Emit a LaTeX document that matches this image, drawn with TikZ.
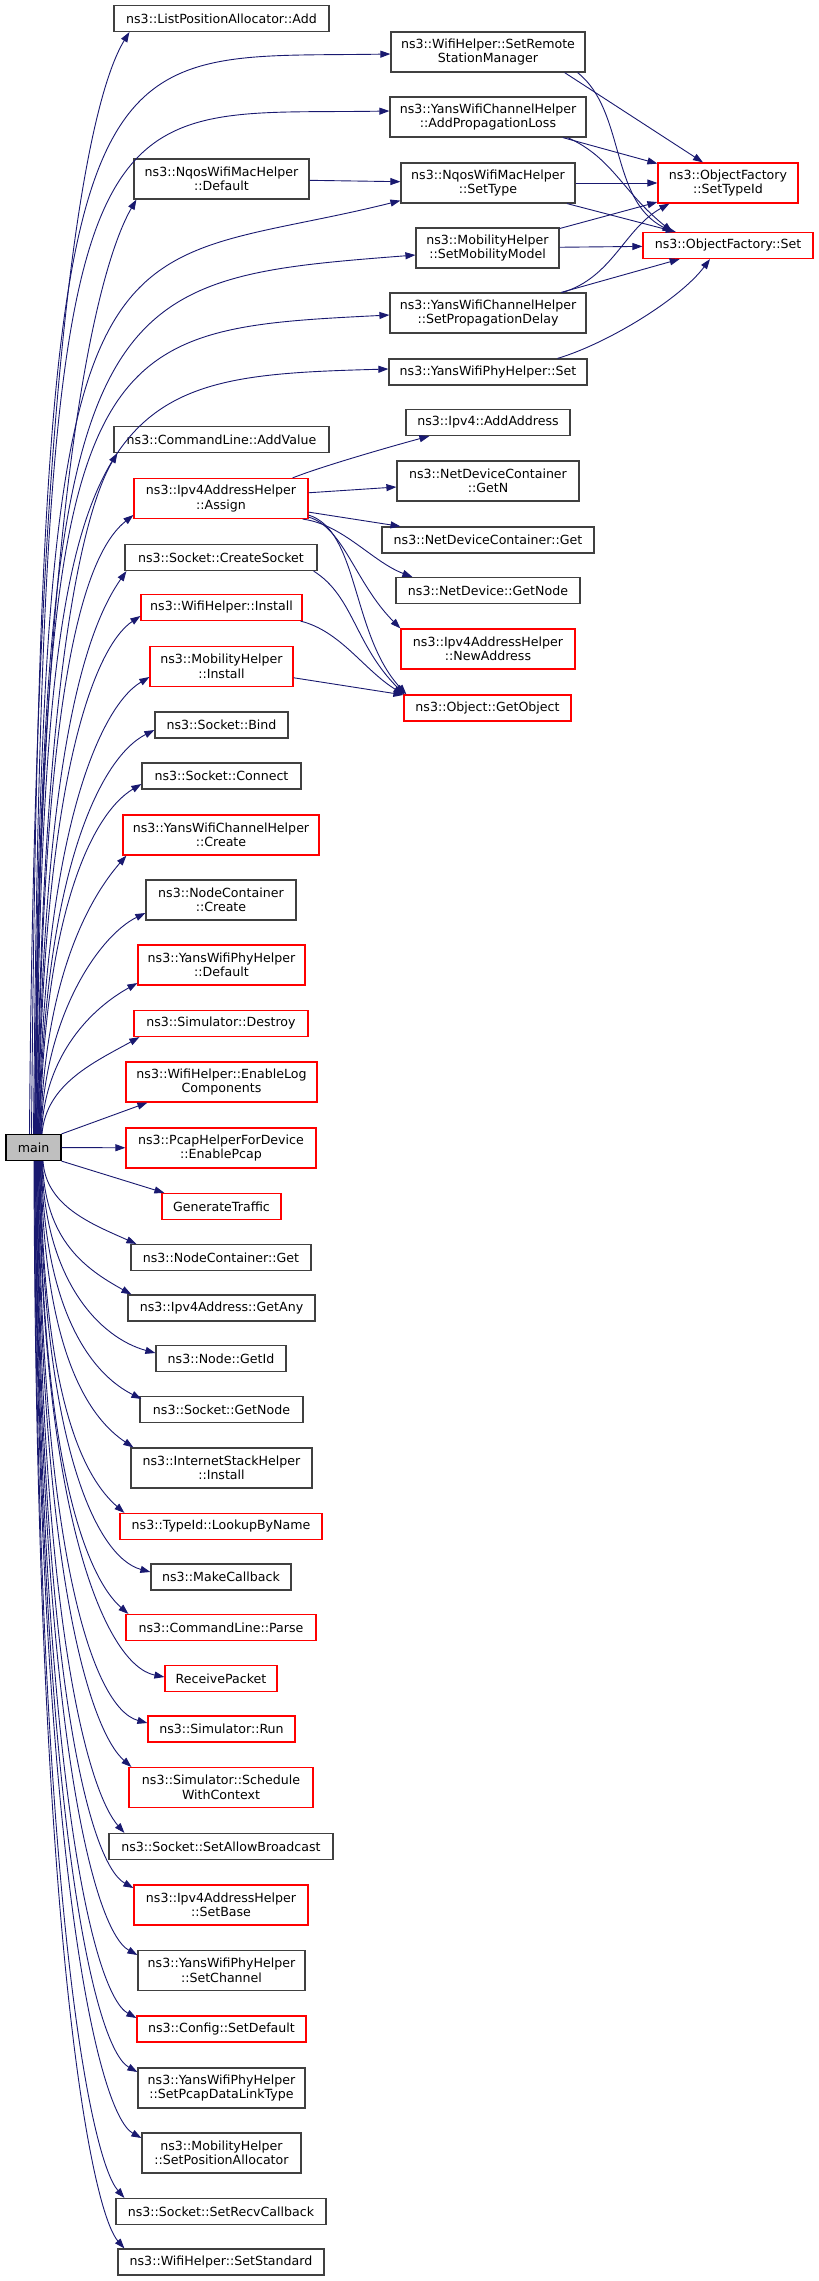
\documentclass[tikz,border=0pt]{standalone}
\usepackage{fontspec}
\setmainfont{DejaVu Sans}
\usetikzlibrary{arrows.meta,calc}

\definecolor{fnk}{HTML}{404040}
\definecolor{fnr}{HTML}{FF0000}
\definecolor{callblue}{HTML}{191970}
\definecolor{mainfill}{HTML}{BFBFBF}

\tikzstyle{fn}=[draw,line width=1.2pt,rectangle,align=center,inner sep=2pt,font=\fontsize{12.6}{14.5}\selectfont]
\tikzstyle{call}=[draw=callblue,line width=0.9pt,-{Triangle[length=10pt,width=7pt]}]

\begin{document}
\begin{tikzpicture}[x=1pt, y=-1pt]
    \path[use as bounding box, fill=white] (0,0) rectangle (819,2281);
    % First we draw the called functions
    \foreach \name/\x/\y/\w/\h/\col/\txt in {
        lpa/221.5/18.5/215/26/fnk/ns3::ListPositionAllocator::Add,
        rsm/488/52/194/40/fnk/{ns3::WifiHelper::SetRemote\\StationManager},
        apl/488/117/196/40/fnk/{ns3::YansWifiChannelHelper\\::AddPropagationLoss},
        nqdef/221.5/179/175/40/fnk/{ns3::NqosWifiMacHelper\\::Default},
        settype/488/183/174/40/fnk/{ns3::NqosWifiMacHelper\\::SetType},
        typeid/728/183/140/40/fnr/{ns3::ObjectFactory\\::SetTypeId},
        smm/487.5/248/143/40/fnk/{ns3::MobilityHelper\\::SetMobilityModel},
        ofset/728/245.5/170/26/fnr/ns3::ObjectFactory::Set,
        spd/488/313/196/40/fnk/{ns3::YansWifiChannelHelper\\::SetPropagationDelay},
        yset/488/372/198/26/fnk/ns3::YansWifiPhyHelper::Set,
        addaddr/488/422.5/164/26/fnk/ns3::Ipv4::AddAddress,
        addval/221.5/439.5/215/26/fnk/ns3::CommandLine::AddValue,
        getn/488/481/182/40/fnk/{ns3::NetDeviceContainer\\::GetN},
        assign/221/498.5/174/40/fnr/{ns3::Ipv4AddressHelper\\::Assign},
        ndcget/488/540/212/26/fnk/ns3::NetDeviceContainer::Get,
        csock/221/557.5/192/26/fnk/ns3::Socket::CreateSocket,
        ndgetnode/488/590.5/184/26/fnk/ns3::NetDevice::GetNode,
        wfinst/221.5/607.5/161/26/fnr/ns3::WifiHelper::Install,
        newaddr/488/649/174/40/fnr/{ns3::Ipv4AddressHelper\\::NewAddress},
        mobinst/221.5/666.5/143/40/fnr/{ns3::MobilityHelper\\::Install},
        getobj/487.5/708/167/26/fnr/ns3::Object::GetObject,
        bind/221.5/725/133/26/fnk/ns3::Socket::Bind,
        connect/221.5/776/159/26/fnk/ns3::Socket::Connect,
        chcreate/221/835/196/40/fnr/{ns3::YansWifiChannelHelper\\::Create},
        nccreate/221/900/150/40/fnk/{ns3::NodeContainer\\::Create},
        phydef/221.5/965/167/40/fnr/{ns3::YansWifiPhyHelper\\::Default},
        destroy/221/1023.5/174/26/fnr/ns3::Simulator::Destroy,
        logcomp/221.5/1082/191/40/fnr/{ns3::WifiHelper::EnableLog\\Components},
        pcap/221/1148/190/40/fnr/{ns3::PcapHelperForDevice\\::EnablePcap},
        gentraffic/221.5/1206.5/119/26/fnr/GenerateTraffic,
        ncget/221/1257.5/180/26/fnk/ns3::NodeContainer::Get,
        getany/221.5/1308/187/26/fnk/ns3::Ipv4Address::GetAny,
        getid/221/1358.5/130/26/fnk/ns3::Node::GetId,
        sgetnode/221.5/1409.5/163/26/fnk/ns3::Socket::GetNode,
        isinst/221.5/1468/181/40/fnk/{ns3::InternetStackHelper\\::Install},
        lookup/221/1526.5/202/26/fnr/ns3::TypeId::LookupByName,
        mkcb/221/1577/140/26/fnk/ns3::MakeCallback,
        parse/221/1627.5/190/26/fnr/ns3::CommandLine::Parse,
        recv/221/1678.5/112/26/fnr/ReceivePacket,
        run/221.5/1729/147/26/fnr/ns3::Simulator::Run,
        sched/221/1787.5/184/40/fnr/{ns3::Simulator::Schedule\\WithContext},
        allowbc/221/1846.5/224/26/fnk/ns3::Socket::SetAllowBroadcast,
        setbase/221/1905/174/40/fnr/{ns3::Ipv4AddressHelper\\::SetBase},
        setchan/221.5/1970.5/167/40/fnk/{ns3::YansWifiPhyHelper\\::SetChannel},
        setdef/221.5/2029/169/26/fnr/ns3::Config::SetDefault,
        pcaplink/221.5/2088/167/40/fnk/{ns3::YansWifiPhyHelper\\::SetPcapDataLinkType},
        posalloc/221.5/2153/159/40/fnk/{ns3::MobilityHelper\\::SetPositionAllocator},
        recvcb/221/2211.5/210/26/fnk/ns3::Socket::SetRecvCallback,
        standard/221/2262/206/26/fnk/ns3::WifiHelper::SetStandard}
        \node[fn, draw=\col, minimum width=\w, minimum height=\h] (\name) at (\x,\y) {\txt};
    \node[fn, draw=black, fill=mainfill, minimum width=55, minimum height=26] (main) at (33.5,1147.5) {main};

    % Calls from main going up
    \foreach \dest/\sx/\ax/\ay/\bx/\by/\anc/\ex/\ey in {
        lpa/-4/6/-795/-40/65/south west/16/0,
        rsm/-2/10/-1130/-310/5/west/0/2,
        apl/0/10/-1080/-305/5/west/0/-6,
        nqdef/1/6/-670/-35/60/south west/3/0,
        settype/1.5/5/-960/-300/75/south west/0/-3,
        smm/2/5/-850/-320/25/west/0/7,
        spd/2.5/5/-800/-300/15/west/0/2,
        yset/3/5/-745/-290/8/west/0/-3,
        addval/3.5/5/-480/-30/50/south west/4/0,
        assign/4/5/-450/-50/40/west/0/16.5,
        csock/4.5/5/-400/-35/50/south west/2/0,
        wfinst/5/4/-360/-45/30/west/0/8.5,
        mobinst/5.5/4/-300/-50/30/west/0/10.5,
        bind/6/4/-260/-55/28/west/0/5,
        connect/6.5/4/-220/-50/30/west/0/8,
        chcreate/7/4/-160/-35/40/south west/4/0,
        nccreate/7.5/3/-120/-45/22/west/0/13,
        phydef/8/3/-80/-45/25/west/0/18,
        destroy/8.5/4/-50/-45/25/south west/6/0}
        \draw[call] ([xshift=\sx pt]main.north) .. controls +(\ax,\ay) and +(\bx,\by) .. ($(\dest.\anc)+(\ex,\ey)$);
    \draw[call] (main.north east) -- ([xshift=22pt]logcomp.south west);
    \draw[call] (main) -- (pcap);
    \draw[call] (main.south east) -- ([xshift=3pt]gentraffic.north west);

    % Calls from main going down
    \foreach \dest/\sx/\ax/\ay/\bx/\by/\anc/\ex/\ey in {
        ncget/9.5/3/45/-45/-20/north west/6/0,
        getany/9/2/80/-45/-25/north west/4/0,
        getid/8.5/2/120/-55/-15/west/0/-5.5,
        sgetnode/8/2/150/-50/-25/north west/2/3,
        isinst/7.5/2/190/-45/-30/north west/3/0,
        lookup/7/2/240/-40/-35/north west/5/0,
        mkcb/6.5/2/280/-55/-15/west/0/-5,
        parse/6/2/310/-40/-35/north west/3/0,
        recv/5.5/2/350/-60/-12/west/0/-1.5,
        run/5/2/390/-55/-15/west/0/-6,
        sched/4.5/2/420/-40/-35/north west/3/0,
        allowbc/4/2/470/-35/-40/north west/16/0,
        setbase/3.5/2/510/-45/-25/west/0/-17,
        setchan/3/2/560/-45/-25/west/0/-15.5,
        setdef/2.5/2/600/-45/-25/west/0/-11,
        pcaplink/2/2/640/-45/-25/west/0/-16,
        posalloc/1.5/2/690/-45/-25/west/0/-15,
        recvcb/1/2/730/-35/-40/north west/9/0,
        standard/0.5/2/760/-35/-40/north west/7/0}
        \draw[call] ([xshift=\sx pt]main.south) .. controls +(\ax,\ay) and +(\bx,\by) .. ($(\dest.\anc)+(\ex,\ey)$);

    % Straight calls between the other functions
    \foreach \source/\dest in {nqdef/settype, settype/typeid, settype/ofset, smm/typeid,
        smm/ofset, apl/typeid, spd/ofset, assign/getn, assign/ndcget, mobinst/getobj}
        \draw[call] (\source) -- (\dest);

    % Curved calls
    \draw[call] ([xshift=-21pt]rsm.south east) -- ([xshift=-25pt]typeid.north);
    \draw[call] ([xshift=-8pt]rsm.south east) .. controls +(48,38) and +(-63,-32) .. ([xshift=30pt]ofset.north west);
    \draw[call] ([xshift=-19pt]apl.south east) .. controls +(45,20) and +(-50,-40) .. ([xshift=30pt]ofset.north west);
    \draw[call] ([xshift=-24pt]spd.north east) .. controls +(50,-15) and +(-45,25) .. ([xshift=12pt]typeid.south west);
    \draw[call] ([xshift=-30pt]yset.north east) .. controls +(50,-15) and +(-30,40) .. ([xshift=-18pt]ofset.south);
    \draw[call] ([xshift=-16pt]assign.north east) .. controls +(30,-12) and +(-30,8) .. ([xshift=24pt]addaddr.south west);
    \draw[call] ([xshift=-6pt]assign.south east) .. controls +(40,5) and +(-40,-15) .. ([xshift=17pt]ndgetnode.north west);
    \draw[call] ([yshift=2pt]assign.south east) .. controls +(35,10) and +(-45,-45) .. (newaddr.north west);
    \draw[call] ([yshift=4pt]assign.south east) .. controls +(50,15) and +(-55,-60) .. ([xshift=3pt]getobj.north west);
    \draw[call] ([xshift=-4pt]csock.south east) .. controls +(40,25) and +(-50,-50) .. ([xshift=1pt]getobj.north west);
    \draw[call] ([xshift=-2pt]wfinst.south east) .. controls +(40,10) and +(-40,-25) .. (getobj.north west);
\end{tikzpicture}
\end{document}
